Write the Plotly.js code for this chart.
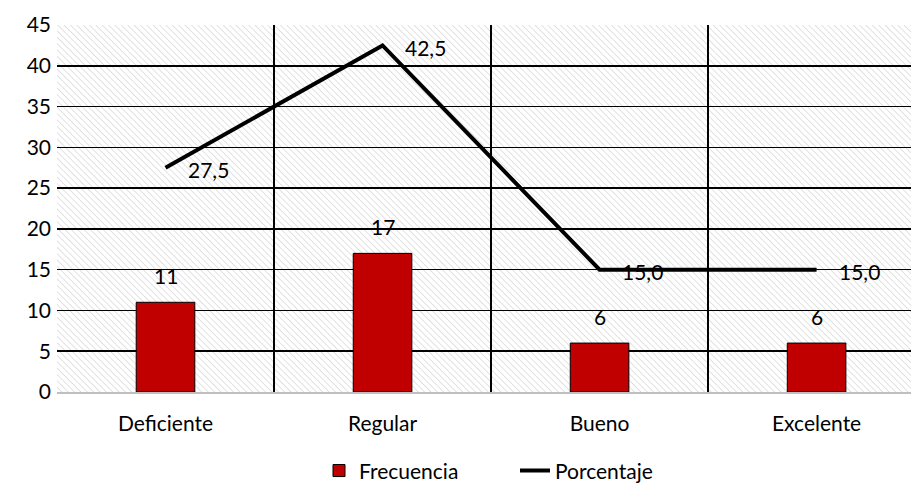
<!DOCTYPE html>
<html>
<head>
<meta charset="utf-8">
<script src="https://cdn.plot.ly/plotly-3.0.1.min.js"></script>
<style>html,body{margin:0;padding:0;background:#fff;}#chart{width:911px;height:486px;}</style>
</head>
<body>
<div id="chart"></div>
<script>
const categories = ["Deficiente", "Regular", "Bueno", "Excelente"];
const frecuencia = [11, 17, 6, 6];
const porcentaje = [27.5, 42.5, 15.0, 15.0];
const yTicks = [0, 5, 10, 15, 20, 25, 30, 35, 40, 45];

const FONT = "Lato, 'Open Sans', sans-serif";

const hatchSvg = "<svg xmlns='http://www.w3.org/2000/svg' width='854' height='367'><defs>" +
  "<pattern id='p' width='4.5' height='4.5' patternUnits='userSpaceOnUse' patternTransform='rotate(-45)'>" +
  "<line x1='0' y1='0' x2='0' y2='4.5' stroke='#d6d6d6' stroke-width='1.4'/></pattern></defs>" +
  "<rect width='100%' height='100%' fill='url(#p)'/></svg>";
const hatchUri = "data:image/svg+xml;charset=utf-8," + encodeURIComponent(hatchSvg);

const fmt = v => v.toFixed(1).replace('.', ',');

const annotations = [];
categories.forEach((c, i) => {
  annotations.push({
    x: c, y: frecuencia[i], xref: 'x', yref: 'y',
    text: String(frecuencia[i]), showarrow: false,
    yanchor: 'bottom', yshift: 12,
    font: {family: FONT, size: 21, color: '#000'}
  });
  annotations.push({
    x: c, y: porcentaje[i], xref: 'x', yref: 'y',
    text: fmt(porcentaje[i]), showarrow: false,
    xanchor: 'left', xshift: 20, yshift: -2,
    font: {family: FONT, size: 21, color: '#000'}
  });
});

const traces = [
  {
    type: 'bar', name: 'Frecuencia', x: categories, y: frecuencia,
    width: 0.27,
    marker: {color: '#C00000', line: {color: '#000', width: 1}},
    hoverinfo: 'skip'
  },
  {
    type: 'scatter', mode: 'lines', name: 'Porcentaje', x: categories, y: porcentaje,
    line: {color: '#000', width: 4},
    hoverinfo: 'skip'
  }
];

const layout = {
  width: 911, height: 486,
  margin: {l: 57, r: 0, t: 25, b: 94, autoexpand: false},
  paper_bgcolor: '#fff', plot_bgcolor: 'rgba(0,0,0,0)',
  font: {family: FONT, size: 21, color: '#000'},
  showlegend: true,
  legend: {orientation: 'h', x: 319 / 911, xref: 'container', xanchor: 'left',
           y: -0.215, yref: 'paper', yanchor: 'middle',
           entrywidth: 151, entrywidthmode: 'pixels',
           font: {family: FONT, size: 21, color: '#000'}, tracegroupgap: 0},
  xaxis: {
    type: 'category', range: [-0.5, 3.435], automargin: false,
    tickson: 'boundaries', ticks: '', showgrid: true, gridcolor: '#000', gridwidth: 1.5,
    showline: true, linecolor: '#bfbfbf', linewidth: 1.5,
    ticklabelstandoff: 12,
    tickfont: {family: FONT, size: 21, color: '#000'}, fixedrange: true
  },
  yaxis: {
    range: [0, 45], tickvals: yTicks, ticktext: yTicks.map(String), automargin: false,
    showgrid: true, gridcolor: '#000', gridwidth: 1.5, zeroline: false,
    showline: false, ticks: '', ticklabelstandoff: 5,
    tickfont: {family: FONT, size: 21, color: '#000'}, fixedrange: true
  },
  images: [{
    source: hatchUri, xref: 'paper', yref: 'paper', x: 0, y: 1, sizex: 1, sizey: 1,
    sizing: 'stretch', xanchor: 'left', yanchor: 'top', layer: 'below'
  }],
  annotations: annotations
};

Plotly.newPlot('chart', traces, layout, {staticPlot: true, displayModeBar: false});
</script>
</body>
</html>
